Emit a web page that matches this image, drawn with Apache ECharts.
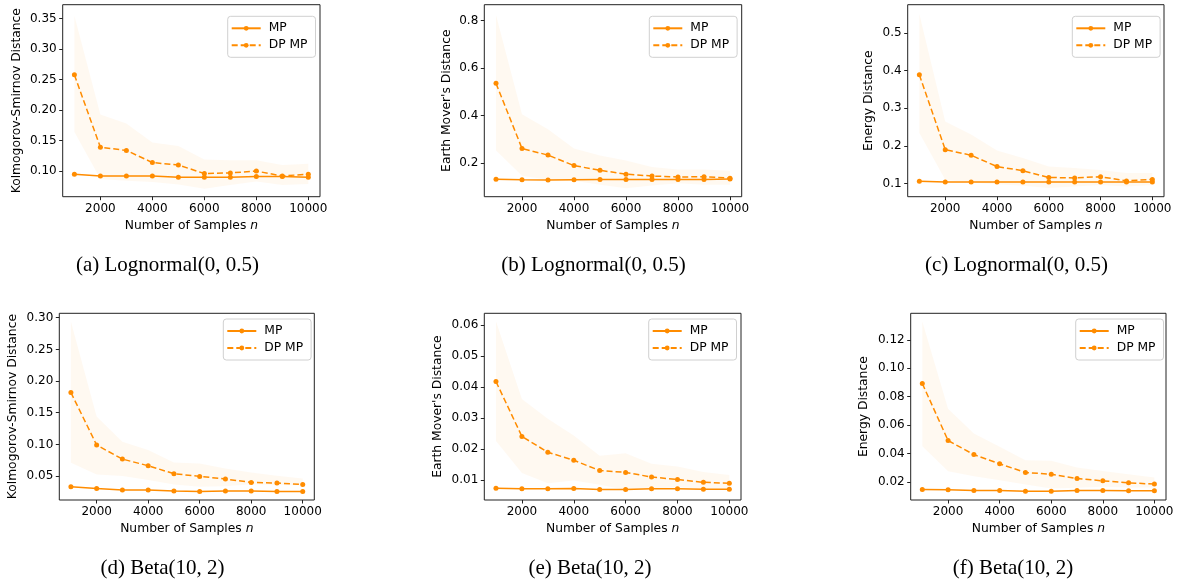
<!DOCTYPE html>
<html><head><meta charset="utf-8">
<script src="https://cdn.jsdelivr.net/npm/echarts@6/dist/echarts.min.js"></script>
<style>html,body{margin:0;padding:0;background:#fff}#c{width:1177px;height:579px}</style>
</head><body><div id="c"></div>
<script>
// ---------- DATA ----------
const samples = [1000,2000,3000,4000,5000,6000,7000,8000,9000,10000];
const xTicks = [2000,4000,6000,8000,10000];
const seriesNames = ['MP','DP MP'];
const xName = 'Number of Samples ';

// (a) Lognormal KS
const aMP = [0.095,0.092,0.092,0.092,0.090,0.090,0.090,0.091,0.091,0.090];
const aDP = [0.258,0.139,0.134,0.114,0.110,0.096,0.097,0.100,0.092,0.095];
const aHi = [0.355,0.193,0.178,0.147,0.141,0.119,0.118,0.118,0.110,0.112];
const aLo = [0.164,0.087,0.084,0.082,0.078,0.071,0.077,0.083,0.077,0.079];
const aTicks = [0.10,0.15,0.20,0.25,0.30,0.35];
// (b) Lognormal EMD
const bMP = [0.131,0.129,0.128,0.129,0.130,0.130,0.130,0.130,0.130,0.132];
const bDP = [0.535,0.261,0.233,0.189,0.169,0.153,0.145,0.141,0.142,0.136];
const bHi = [0.823,0.405,0.342,0.261,0.231,0.210,0.183,0.172,0.172,0.167];
const bLo = [0.252,0.146,0.129,0.125,0.108,0.094,0.105,0.115,0.108,0.108];
const bTicks = [0.2,0.4,0.6,0.8];
// (c) Lognormal Energy
const cMP = [0.106,0.104,0.104,0.104,0.104,0.104,0.104,0.104,0.104,0.104];
const cDP = [0.389,0.190,0.175,0.145,0.134,0.116,0.115,0.118,0.107,0.111];
const cHi = [0.550,0.265,0.230,0.188,0.168,0.145,0.141,0.136,0.128,0.128];
const cLo = [0.234,0.110,0.103,0.098,0.094,0.088,0.092,0.096,0.092,0.096];
const cTicks = [0.1,0.2,0.3,0.4,0.5];
// (d) Beta KS
const dMP = [0.0332,0.0305,0.0279,0.0279,0.0263,0.0258,0.0263,0.0263,0.0258,0.0258];
const dDP = [0.182,0.099,0.0768,0.0663,0.0537,0.0495,0.0453,0.040,0.039,0.0368];
const dHi = [0.294,0.144,0.104,0.091,0.0716,0.070,0.062,0.0558,0.0505,0.0463];
const dLo = [0.071,0.0526,0.050,0.0437,0.0368,0.0332,0.034,0.037,0.036,0.035];
const dTicks = [0.05,0.10,0.15,0.20,0.25,0.30];
// (e) Beta EMD
const eMP = [0.0073,0.0071,0.0071,0.0072,0.0069,0.0069,0.0071,0.0071,0.0070,0.0070];
const eDP = [0.0417,0.0240,0.0189,0.0163,0.0130,0.0124,0.0109,0.0101,0.0092,0.0089];
const eHi = [0.0611,0.0361,0.0297,0.0243,0.0178,0.0186,0.0152,0.0143,0.0125,0.0116];
const eLo = [0.0225,0.0122,0.0089,0.0098,0.0084,0.0068,0.0071,0.0076,0.0071,0.0066];
const eTicks = [0.01,0.02,0.03,0.04,0.05,0.06];
// (f) Beta Energy
const fMP = [0.0146,0.0144,0.0139,0.0139,0.0134,0.0134,0.0139,0.0139,0.0137,0.0137];
const fDP = [0.0893,0.0491,0.0392,0.0327,0.0266,0.0254,0.0223,0.0207,0.0193,0.0184];
const fHi = [0.133,0.0716,0.054,0.0447,0.0353,0.0348,0.0301,0.0277,0.0254,0.0231];
const fLo = [0.0451,0.0275,0.024,0.0212,0.0181,0.0153,0.0158,0.0165,0.016,0.016];
const fTicks = [0.02,0.04,0.06,0.08,0.10,0.12];

const yNames = ['Kolmogorov-Smirnov Distance',"Earth Mover's Distance",'Energy Distance',
                'Kolmogorov-Smirnov Distance',"Earth Mover's Distance",'Energy Distance'];
const captions = ['(a) Lognormal(0, 0.5)','(b) Lognormal(0, 0.5)','(c) Lognormal(0, 0.5)',
                  '(d) Beta(10, 2)','(e) Beta(10, 2)','(f) Beta(10, 2)'];

// ---------- LAYOUT / STYLE ----------
const panels = [
  {mp:aMP,dp:aDP,hi:aHi,lo:aLo,ticks:aTicks,dec:2,ymin:0.058,ymax:0.373,left:62.7,top:4.7,width:257.3,height:192,ngap:40,lgL:227.7,lgT:16.3,capX:167.5,capY:265},
  {mp:bMP,dp:bDP,hi:bHi,lo:bLo,ticks:bTicks,dec:1,ymin:0.058,ymax:0.866,left:484.3,top:4.7,width:257.4,height:192,ngap:31,lgL:649.3,lgT:16.3,capX:593.5,capY:265},
  {mp:cMP,dp:cDP,hi:cHi,lo:cLo,ticks:cTicks,dec:1,ymin:0.065,ymax:0.575,left:907.7,top:4.7,width:256.3,height:192,ngap:32.5,lgL:1072.3,lgT:16.3,capX:1016.5,capY:265},
  {mp:dMP,dp:dDP,hi:dHi,lo:dLo,ticks:dTicks,dec:2,ymin:0.0122,ymax:0.307,left:59.3,top:313.3,width:255,height:186.7,ngap:40,lgL:223.3,lgT:319,capX:162.5,capY:568},
  {mp:eMP,dp:eDP,hi:eHi,lo:eLo,ticks:eTicks,dec:2,ymin:0.0035,ymax:0.0637,left:484.3,top:313.3,width:256.7,height:186.7,ngap:40,lgL:648.7,lgT:319,capX:590,capY:568},
  {mp:fMP,dp:fDP,hi:fHi,lo:fLo,ticks:fTicks,dec:2,ymin:0.0072,ymax:0.1388,left:910.7,top:313.3,width:255.3,height:186.7,ngap:40.4,lgL:1075.7,lgT:319,capX:1013,capY:568}
];
const ORANGE = '#ff8c00';
const FONT = 'DejaVu Sans';
const XTICK_MIN = 550, XTICK_MAX = 10450;

const grids = [], xAxes = [], yAxes = [], series = [], legends = [], graphics = [];
panels.forEach((p, i) => {
  grids.push({left:p.left, top:p.top, width:p.width, height:p.height, show:true,
    borderColor:'#222', borderWidth:1, backgroundColor:'transparent', containLabel:false});
  xAxes.push({type:'value', gridIndex:i, min:XTICK_MIN, max:XTICK_MAX,
    name: xName + '{i|n}', nameLocation:'middle', nameGap:23,
    nameTextStyle:{fontFamily:FONT, fontSize:12.3, color:'#000',
      rich:{i:{fontFamily:FONT, fontStyle:'italic', fontSize:12.3, color:'#000'}}},
    axisLine:{show:false}, splitLine:{show:false},
    axisTick:{show:true, inside:false, length:3.5, customValues:xTicks, lineStyle:{color:'#222', width:1}},
    axisLabel:{customValues:xTicks, fontFamily:FONT, fontSize:12, color:'#000', margin:6,
      formatter:v=>String(v)}});
  yAxes.push({type:'value', gridIndex:i, min:p.ymin, max:p.ymax,
    name:yNames[i], nameLocation:'middle', nameGap:p.ngap, nameRotate:90,
    nameTextStyle:{fontFamily:FONT, fontSize:12.3, color:'#000'},
    axisLine:{show:false}, splitLine:{show:false},
    axisTick:{show:true, inside:false, length:3.5, customValues:p.ticks, lineStyle:{color:'#222', width:1}},
    axisLabel:{customValues:p.ticks, fontFamily:FONT, fontSize:12, color:'#000', margin:6,
      formatter:v=>v.toFixed(p.dec)}});
  const lo = p.lo, hi = p.hi;
  series.push({type:'custom', name:'band'+i, xAxisIndex:i, yAxisIndex:i, silent:true, z:1,
    animation:false, clip:true,
    data: samples.map((x,k)=>[x, lo[k], hi[k]]),
    encode:{x:0, y:[1,2]},
    renderItem:(params, api)=>{
      if (params.dataIndex !== 0) return null;
      const pts = [];
      for (let k=0;k<samples.length;k++) pts.push(api.coord([samples[k], hi[k]]));
      for (let k=samples.length-1;k>=0;k--) pts.push(api.coord([samples[k], lo[k]]));
      return {type:'polygon', shape:{points:pts}, style:{fill:'rgba(255,140,0,0.055)'}};
    }});
  series.push({type:'line', name:seriesNames[0], xAxisIndex:i, yAxisIndex:i, z:3, animation:false,
    data: samples.map((x,k)=>[x, p.mp[k]]), symbol:'circle', symbolSize:5, showSymbol:true,
    itemStyle:{color:ORANGE}, lineStyle:{color:ORANGE, width:1.5}});
  series.push({type:'line', name:seriesNames[1], xAxisIndex:i, yAxisIndex:i, z:3, animation:false,
    data: samples.map((x,k)=>[x, p.dp[k]]), symbol:'circle', symbolSize:5, showSymbol:true,
    itemStyle:{color:ORANGE}, lineStyle:{color:ORANGE, width:1.5, type:[6,3]}});
  legends.push({left:p.lgL, top:p.lgT, orient:'vertical', data:seriesNames, selectedMode:false,
    itemWidth:29, itemHeight:6, itemGap:5, padding:[6,8,6,3],
    backgroundColor:'rgba(255,255,255,0.8)', borderColor:'#d0d0d0', borderWidth:1, borderRadius:3,
    textStyle:{fontFamily:FONT, fontSize:12.3, color:'#000', padding:[0,0,0,3]}});
  graphics.push({type:'text', x:p.capX, y:p.capY, z:10,
    style:{text:captions[i], font:'21px "Liberation Serif"', fill:'#000', textAlign:'center', textVerticalAlign:'middle'}});
});

const chart = echarts.init(document.getElementById('c'), null, {renderer:'canvas'});
chart.setOption({animation:false, backgroundColor:'#fff', grid:grids, xAxis:xAxes, yAxis:yAxes,
  series:series, legend:legends, graphic:graphics});
</script></body></html>
